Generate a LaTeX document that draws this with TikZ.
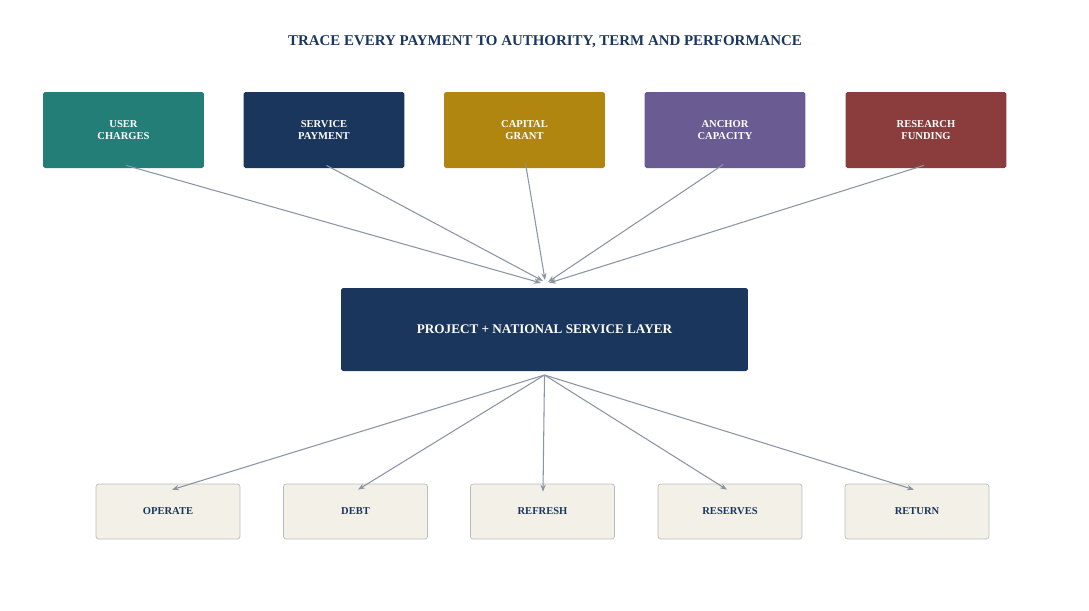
\documentclass[tikz,border=0pt]{standalone}
\usepackage{fontspec}
\setmainfont{Liberation Serif}
\usetikzlibrary{arrows.meta}
\definecolor{tealc}{HTML}{237E78}
\definecolor{navyc}{HTML}{1B365D}
\definecolor{goldc}{HTML}{B08610}
\definecolor{purplec}{HTML}{6A5B93}
\definecolor{redc}{HTML}{8B3D3D}
\definecolor{beigec}{HTML}{F3F0E8}
\definecolor{edgec}{HTML}{B8BCC2}
\definecolor{arrowc}{HTML}{8A94A3}
\tikzset{
    source/.style={rounded corners=1pt, minimum width=3.22cm, minimum height=1.52cm,
        text=white, font=\fontsize{6}{6.5}\selectfont\bfseries, align=center},
    use/.style={rounded corners=1.5pt, draw=edgec, fill=beigec, minimum width=2.88cm,
        minimum height=1.1cm, text=navyc, font=\fontsize{6}{7}\selectfont\bfseries},
    flow/.style={draw=arrowc, line width=0.6pt, -{Stealth[length=4pt,width=3pt]}}
}
\begin{document}
\begin{tikzpicture}[x=0.02cm, y=-0.02cm]
        \useasboundingbox (0, 0) rectangle (1089, 610);
        \node[font=\fontsize{8.5}{10}\selectfont\bfseries, text=navyc] (title) at (545, 42)
            {TRACE EVERY PAYMENT TO AUTHORITY, TERM AND PERFORMANCE};
        % sources
        \node[source, fill=tealc] (charges) at (123.5, 130) {USER\\CHARGES};
        \node[source, fill=navyc] (payment) at (324, 130) {SERVICE\\PAYMENT};
        \node[source, fill=goldc] (grant) at (524.5, 130) {CAPITAL\\GRANT};
        \node[source, fill=purplec] (anchor) at (725, 130) {ANCHOR\\CAPACITY};
        \node[source, fill=redc] (research) at (926, 130) {RESEARCH\\FUNDING};
        % layer
        \node[fill=navyc, rounded corners=1pt, minimum width=8.14cm, minimum height=1.66cm,
            text=white, font=\fontsize{7.5}{9}\selectfont\bfseries] (layer) at (544.5, 329.5)
            {PROJECT + NATIONAL SERVICE LAYER};
        % uses
        \node[use] (operate) at (168, 511.5) {OPERATE};
        \node[use] (debt) at (355.5, 511.5) {DEBT};
        \node[use] (refresh) at (542.5, 511.5) {REFRESH};
        \node[use] (reserves) at (730, 511.5) {RESERVES};
        \node[use] (return) at (917, 511.5) {RETURN};
        % meeting points
        \coordinate (in1) at (541, 283);
        \coordinate (in2) at (543, 281);
        \coordinate (in3) at (545, 280);
        \coordinate (in4) at (548, 282);
        \coordinate (in5) at (549, 283);
        \coordinate (out) at (544.5, 375);
        \draw[flow] ([shift={(2.5,-3)}]charges.south) -- (in1);
        \draw[flow] ([shift={(2.5,-3)}]payment.south) -- (in2);
        \draw[flow] ([shift={(1,-5)}]grant.south) -- (in3);
        \draw[flow] ([shift={(-1.5,-4)}]anchor.south) -- (in4);
        \draw[flow] ([shift={(-2,-3)}]research.south) -- (in5);
        \draw[flow] (out) -- ([shift={(4,6)}]operate.north);
        \draw[flow] (out) -- ([shift={(2.5,6)}]debt.north);
        \draw[flow] (out) -- ([shift={(0.5,8)}]refresh.north);
        \draw[flow] (out) -- ([shift={(-3,6)}]reserves.north);
        \draw[flow] (out) -- ([shift={(-3,6)}]return.north);
    \end{tikzpicture}
\end{document}
